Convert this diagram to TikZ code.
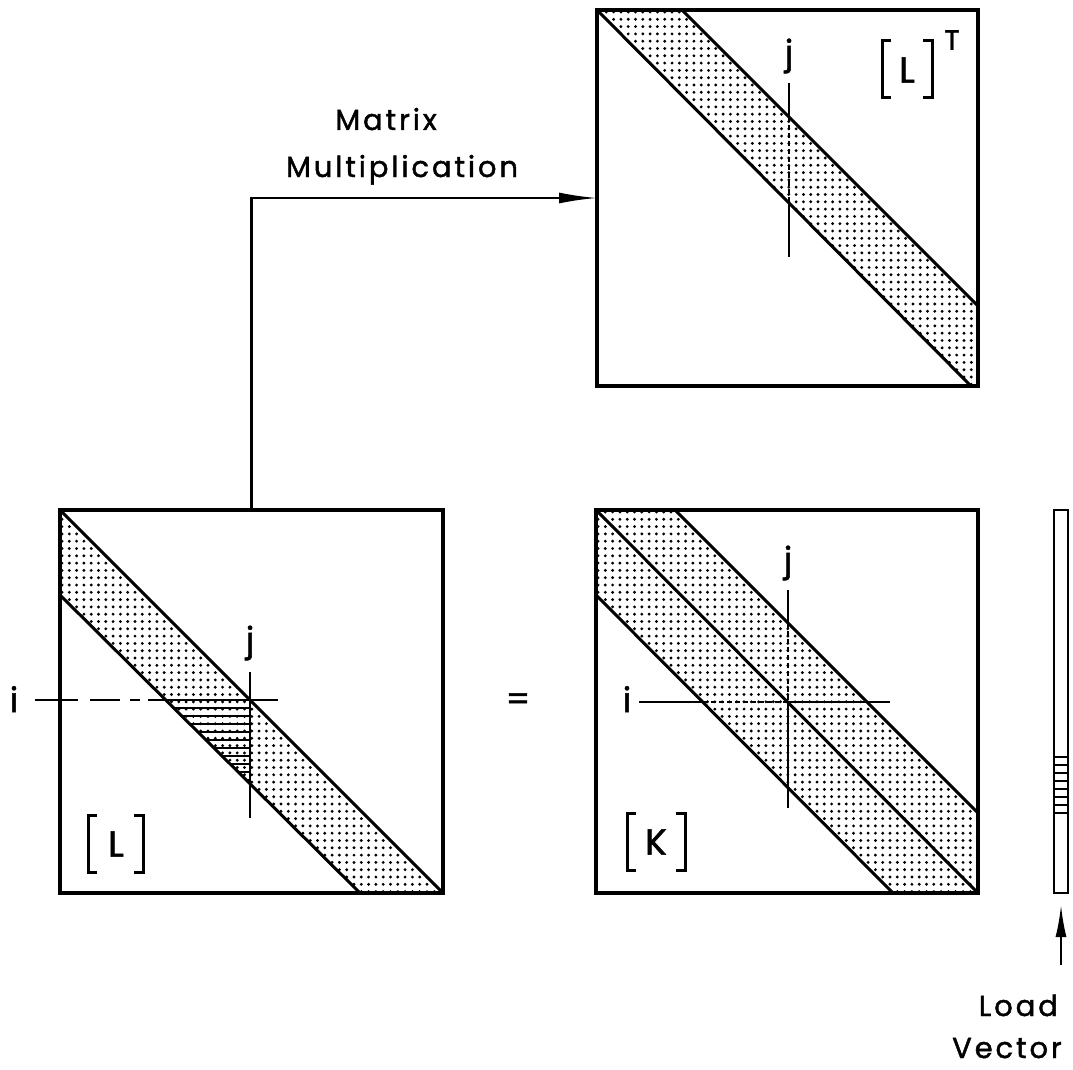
\documentclass[tikz,border=0pt]{standalone}
\usepackage{fontspec}
\newfontfamily\labfont[LetterSpace=10,FakeBold=1.5]{Poppins}
\newfontfamily\symfont[FakeBold=1.5]{Poppins}
\usetikzlibrary{arrows.meta}
\newcommand\dotfield[2]{%
  \foreach \a in {0,...,53}{\foreach \b in {0,...,53}{\fill (#1+\a*7.3,#2+\b*7.3) circle (1.6pt);}}}
\begin{document}
\begin{tikzpicture}[x=1pt,y=-1pt,
  boxst/.style={draw, line width=3.4pt, inner sep=0pt, outer sep=0pt},
  bandline/.style={line width=3pt},
  axisline/.style={line width=2pt},
  dashax/.style={line width=2pt, dash pattern=on 5pt off 3pt},
  conn/.style={line width=2.2pt, -{Latex[length=38pt,width=11pt]}},
  upconn/.style={line width=2.2pt, -{Latex[length=32pt,width=11pt]}, shorten >=12pt},
  brk/.style={line width=3pt},
  lbl/.style={font=\symfont\fontsize{34}{40}\selectfont, inner sep=0pt},
  bigl/.style={font=\symfont\fontsize{36}{42}\selectfont, inner sep=0pt},
  txt/.style={font=\labfont\fontsize{29}{34}\selectfont, inner sep=0pt},
  hatch/.style={line width=1.8pt}
]
\useasboundingbox (0,0) rectangle (1073,1070);

% dotted bands
\begin{scope}
  \clip (597,10)--(682,10)--(978,306)--(978,386)--(971,386)--cycle;
  \dotfield{599}{12}
\end{scope}
\begin{scope}
  \clip (60,510)--(443,893)--(360,893)--(60,595)--cycle;
  \dotfield{62}{512}
\end{scope}
\begin{scope}
  \clip (596,510)--(675,510)--(978,813)--(978,893)--(893,893)--(596,595)--cycle;
  \dotfield{598}{512}
\end{scope}

% hatched triangle in [L]
\begin{scope}
  \clip (165.7,700)--(250,700)--(250,783.7)--cycle;
  \foreach \y in {700,708,...,784} \draw[hatch] (150,\y)--(260,\y);
\end{scope}

% band lines
\draw[bandline] (597,10)--(971,386);
\draw[bandline] (682,10)--(978,306);
\draw[bandline] (60,510)--(443,893);
\draw[bandline] (60,595)--(360,893);
\draw[bandline] (596,510)--(978,893);
\draw[bandline] (675,510)--(978,813);
\draw[bandline] (596,595)--(893,893);

% matrix frames
\node[boxst, minimum width=381pt, minimum height=376pt] (LT) at (787.5,198) {};
\node[boxst, minimum width=383pt, minimum height=383pt] (L) at (251.5,701.5) {};
\node[boxst, minimum width=382pt, minimum height=383pt] (K) at (787,701.5) {};
\node[boxst, line width=2.8pt, minimum width=14pt, minimum height=383pt] (V) at (1061,701.5) {};

% load vector hatch
\foreach \y in {757,765,...,815} \draw[hatch] (1054,\y)--(1068,\y);

% i / j lines
\draw[axisline] (789,83)--(789,117);
\draw[dashax] (789,117)--(789,203);
\draw[axisline] (789,203)--(789,257);

\draw[axisline] (250,672)--(250,818);
\draw[axisline] (35,700)--(78,700);
\draw[axisline] (90,700)--(120,700);
\draw[axisline] (130,700)--(140,700);
\draw[axisline] (148,700)--(278,700);

\draw[axisline] (788,590)--(788,623);
\draw[dashax] (788,623)--(788,702);
\draw[axisline] (788,702)--(788,808);
\draw[axisline] (639,702)--(703,702);
\draw[dashax] (703,702)--(788,702);
\draw[axisline] (788,702)--(890,702);

% connectors
\draw[conn] (L.north) |- (LT.west);
\coordinate (vtail) at (1061,965);
\draw[upconn] (vtail) -- (V.south);

% brackets
\draw[brk] (97,815)--(88,815)--(88,872)--(97,872);
\draw[brk] (134,815)--(143,815)--(143,872)--(134,872);
\draw[brk] (636,813)--(627,813)--(627,870)--(636,870);
\draw[brk] (676,813)--(685,813)--(685,870)--(676,870);
\draw[brk] (891,41)--(882,41)--(882,98)--(891,98);
\draw[brk] (923,41)--(932,41)--(932,98)--(923,98);

% labels
\node[lbl] (jLT) at (789,56) {j};
\node[lbl] (jL) at (250,643) {j};
\node[lbl, anchor=base] (iL) at (14,712) {i};
\node[lbl] (jK) at (788,563) {j};
\node[lbl, anchor=base] (iK) at (627,712) {i};
\node[bigl] (nL) at (116,844) {L};
\node[bigl] (nK) at (656,842) {K};
\node[bigl] (nLT) at (907,70) {L};
\node[lbl, font=\symfont\fontsize{28}{32}\selectfont] (sT) at (952,40) {T};
\node[lbl] (eq) at (518,702) {=};
\node[txt, anchor=base] (m1) at (386,130) {Matrix};
\node[txt, anchor=base] (m2) at (402,177) {Multiplication};
\node[txt, anchor=base east] (ld) at (1058,1016) {Load};
\node[txt, anchor=base east] (vc) at (1062,1058) {Vector};
\end{tikzpicture}
\end{document}
